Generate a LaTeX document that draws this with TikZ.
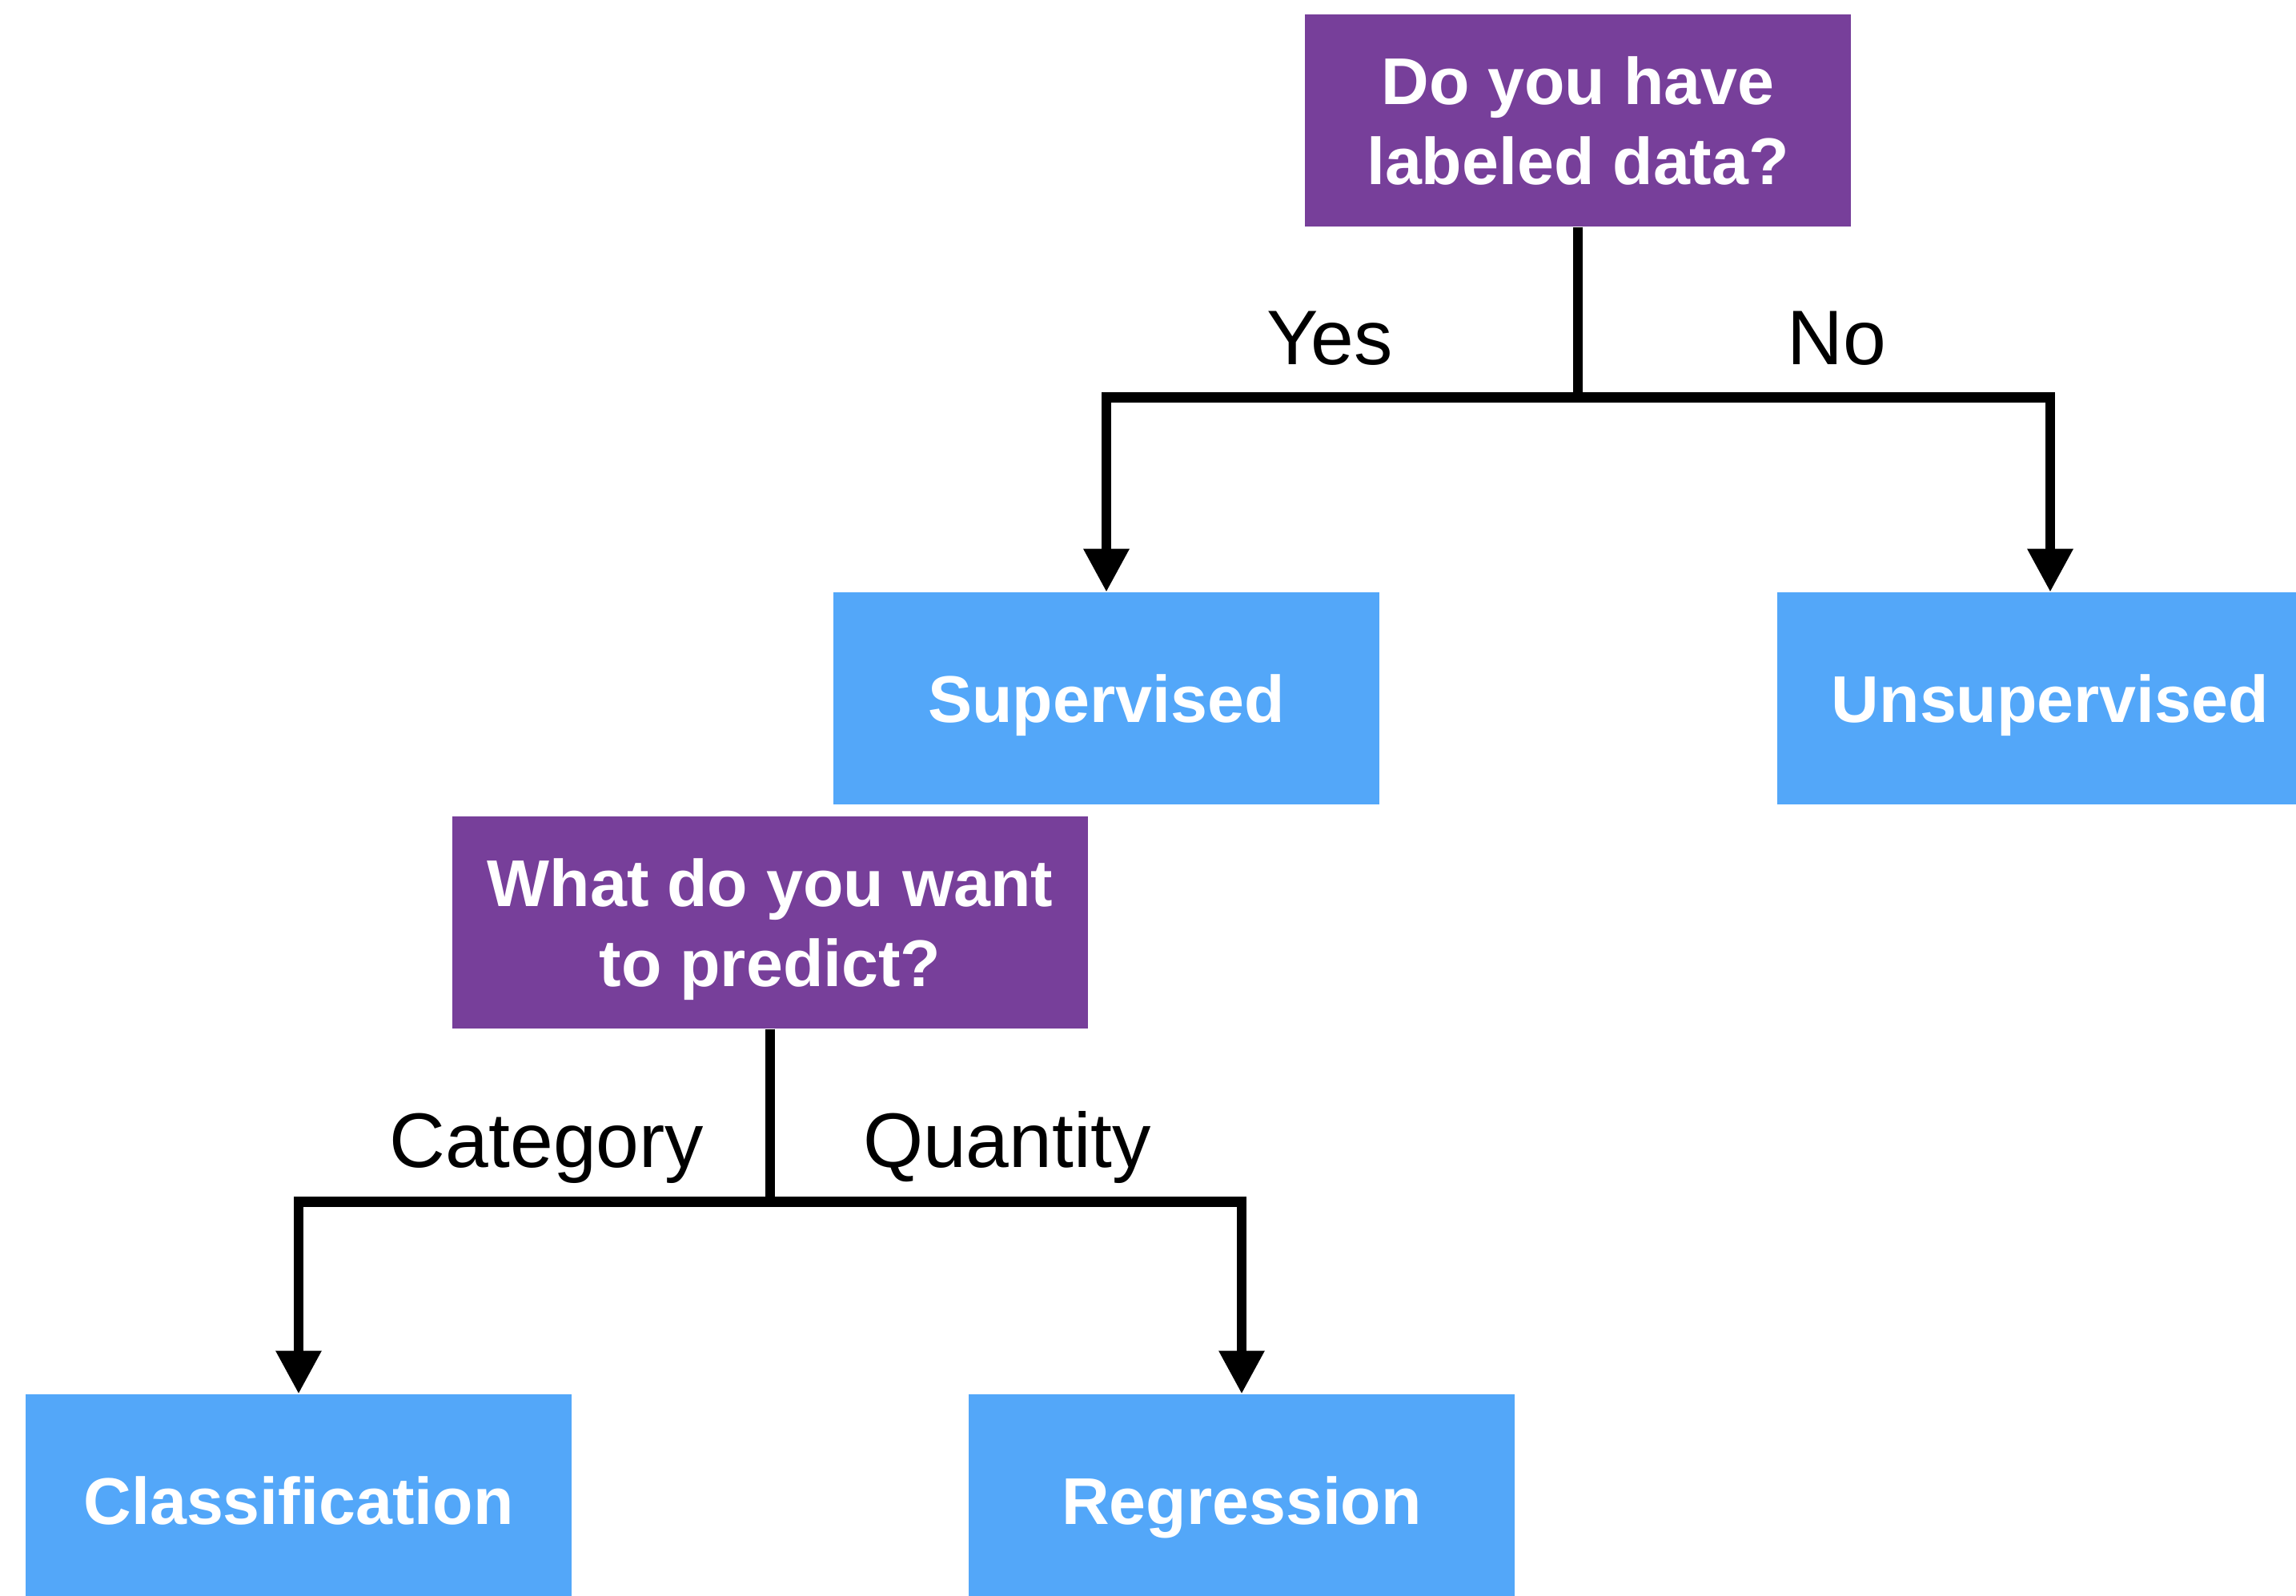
\documentclass[tikz,border=0pt]{standalone}
\usepackage{fontspec}
\setmainfont{Liberation Sans}
\usepackage{tikz}
\usetikzlibrary{arrows.meta, positioning}

\definecolor{askpurple}{HTML}{773F9A}
\definecolor{answerblue}{HTML}{53A7F9}

\begin{document}
\begin{tikzpicture}[
    question/.style={rectangle, fill=askpurple, text=white, minimum width=6.82cm, minimum height=2.65cm, align=center, inner sep=0pt, text depth=0pt, font=\bfseries\fontsize{23.5}{28.5}\selectfont},
    answer/.style={rectangle, fill=answerblue, text=white, minimum width=6.82cm, minimum height=2.65cm, inner sep=0pt, text depth=0pt, font=\bfseries\fontsize{23.5}{28.5}\selectfont},
    choice/.style={anchor=base, inner sep=0pt, font=\fontsize{27.5}{33}\selectfont},
    arrow/.style={-{Triangle[length=0.54cm, width=0.54cm]}, line width=0.125cm},
    node distance=4.56cm
    ]

    \useasboundingbox (0,0) rectangle (28.68,-19.94);

    % Questions and answers
    \node[question] (labeled) at (19.71,-1.505) {Do you have\\labeled data?};
    \node[answer, below=of labeled, xshift=-5.89cm] (sup) {Supervised};
    \node[answer, below=of labeled, xshift=5.90cm] (unsup) {Unsupervised};
    \node[question, minimum width=7.94cm, below=0.13cm of sup, xshift=-4.20cm] (predict) {What do you want\\to predict?};
    \node[answer, below=of predict, xshift=-5.89cm] (classif) {Classification};
    \node[answer, below=of predict, xshift=5.89cm] (regress) {Regression};

    % Forks under the questions
    \coordinate[below=2.13cm of labeled] (fork1);
    \coordinate[below=2.16cm of predict] (fork2);

    % Connect them
    \draw[arrow] (labeled.south) -- (fork1) -| (sup.north);
    \draw[arrow] (labeled.south) -- (fork1) -| (unsup.north);
    \draw[arrow] (predict.south) -- (fork2) -| (classif.north);
    \draw[arrow] (predict.south) -- (fork2) -| (regress.north);

    % Branch labels
    \node[choice] (yes) at ([xshift=-3.10cm, yshift=0.41cm]fork1) {Yes};
    \node[choice] (no) at ([xshift=3.23cm, yshift=0.41cm]fork1) {No};
    \node[choice] (category) at ([xshift=-2.79cm, yshift=0.43cm]fork2) {Category};
    \node[choice] (quantity) at ([xshift=2.96cm, yshift=0.43cm]fork2) {Quantity};

\end{tikzpicture}
\end{document}
